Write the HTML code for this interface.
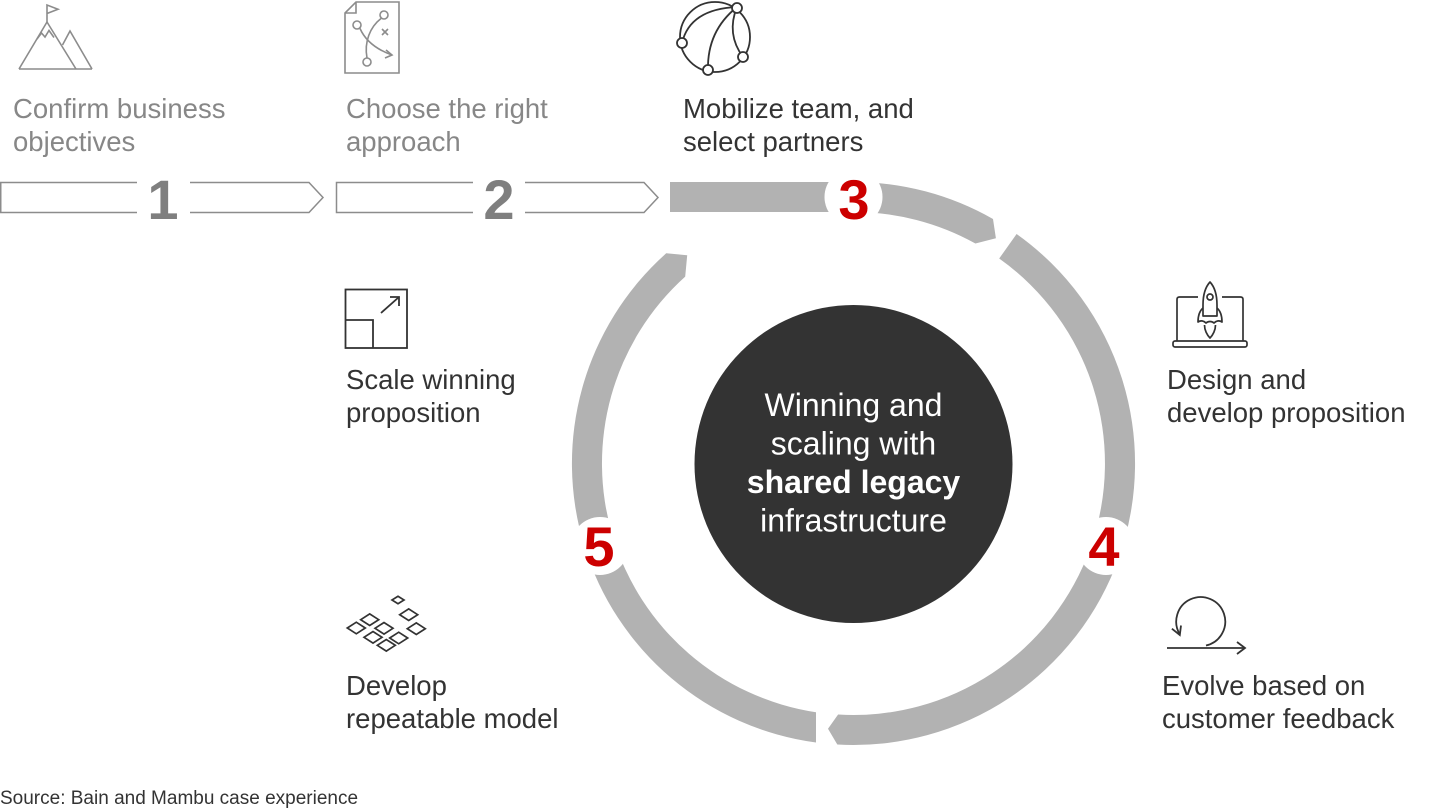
<!DOCTYPE html>
<html>
<head>
<meta charset="utf-8">
<style>
  html, body { margin: 0; padding: 0; background: #ffffff; }
  body { width: 1440px; height: 810px; overflow: hidden; }
  svg { display: block; }
  text { font-family: "Liberation Sans", Arial, sans-serif; }
</style>
</head>
<body>
<svg width="1440" height="810" viewBox="0 0 1440 810" xmlns="http://www.w3.org/2000/svg">
  <rect x="0" y="0" width="1440" height="810" fill="#ffffff"/>

  <!-- ===== Icons ===== -->
  <!-- Mountain icon (gray) -->
  <g fill="none" stroke="#8c8c8c" stroke-width="1.6" stroke-linejoin="miter">
    <path d="M47,22 L47,5 L58,9.3 L47,13.5"/>
    <path d="M19,69 L47,22 L76,69"/>
    <path d="M37,39 L41.5,33 L45,37 L49,30.5 L54,37.5"/>
    <path d="M62.5,45 L70,31 L92,69"/>
    <path d="M19,69 L92,69"/>
  </g>

  <!-- Document / playbook icon (gray) -->
  <g fill="none" stroke="#8c8c8c" stroke-width="1.6">
    <path d="M356,2 L399,2 L399,73 L345,73 L345,13 Z"/>
    <path d="M345,13 L356,13 L356,2"/>
    <circle cx="357" cy="25" r="4"/>
    <circle cx="384" cy="15" r="4"/>
    <circle cx="367" cy="62" r="4"/>
    <path d="M367,58 C364,42 370,27 381,18.5"/>
    <path d="M360,28.5 C366,42 378,50 392,55"/>
    <path d="M386,50 L392,55 L385,58"/>
    <path d="M382,29 L388,35 M388,29 L382,35"/>
  </g>

  <!-- Globe / network icon (dark) -->
  <g fill="none" stroke="#333333" stroke-width="1.8">
    <circle cx="715" cy="37" r="35"/>
    <path d="M737,7 Q690,9 682,43"/>
    <path d="M737,7 Q707,31 708,70"/>
    <path d="M737,7 Q726,34 743,57"/>
    <g fill="#ffffff">
      <circle cx="737" cy="8" r="5"/>
      <circle cx="682" cy="43" r="5"/>
      <circle cx="708" cy="70" r="5"/>
      <circle cx="743" cy="57" r="5"/>
    </g>
  </g>

  <!-- Scale icon (dark) -->
  <g fill="none" stroke="#333333" stroke-width="1.8">
    <rect x="345.5" y="289.5" width="61.5" height="58.5"/>
    <path d="M345.5,320 L373,320 L373,348"/>
    <path d="M381,313 L399,297"/>
    <path d="M390,297 L399,297 L399,306"/>
  </g>

  <!-- Laptop with rocket (dark) -->
  <g fill="none" stroke="#333333" stroke-width="1.7" stroke-linejoin="round">
    <path d="M1198,297 L1179.5,297 Q1177,297 1177,299.5 L1177,341"/>
    <path d="M1243,341 L1243,299.5 Q1243,297 1240.5,297 L1222,297"/>
    <rect x="1173" y="341" width="74" height="6" rx="2"/>
    <path d="M1210,282 C1204.5,288 1203,296 1203,305 L1203,316 L1217,316 L1217,305 C1217,296 1215.5,288 1210,282 Z"/>
    <circle cx="1210" cy="297" r="3"/>
    <path d="M1203,308 C1199.5,311 1198,316 1198,322 C1201,320 1204,321 1206,323 C1208,321 1212,321 1214,323 C1216,321 1219,320 1222,322 C1222,316 1220.5,311 1217,308"/>
    <path d="M1204.5,325 C1204.5,330 1207,335 1210,338 C1213,335 1215.5,330 1215.5,325"/>
  </g>

  <!-- Diamonds icon (dark) -->
  <g fill="none" stroke="#333333" stroke-width="1.7" stroke-linejoin="miter">
    <path d="M392,600 L398,596.3 L404,600 L398,603.7 Z"/>
    <path d="M399.7,614.7 L408.7,608.9 L417.7,614.7 L408.7,620.5 Z"/>
    <path d="M360.7,619.7 L369.7,613.9 L378.7,619.7 L369.7,625.5 Z"/>
    <path d="M347.3,628 L356.3,622.2 L365.3,628 L356.3,633.8 Z"/>
    <path d="M375,628.3 L384,622.5 L393,628.3 L384,634.1 Z"/>
    <path d="M407.3,628.7 L416.3,622.9 L425.3,628.7 L416.3,634.5 Z"/>
    <path d="M364,637.3 L373,631.5 L382,637.3 L373,643.1 Z"/>
    <path d="M389.7,638 L398.7,632.2 L407.7,638 L398.7,643.8 Z"/>
    <path d="M377.3,645.3 L386.3,639.5 L395.3,645.3 L386.3,651.1 Z"/>
  </g>

  <!-- Loop icon (dark) -->
  <g fill="none" stroke="#333333" stroke-width="1.8">
    <path d="M1167,648 L1245,648"/>
    <path d="M1237,642 L1245,648 L1237,654"/>
    <path d="M1206,645.5 A24.5 24.5 0 1 0 1179.8,634.3"/>
    <path d="M1171.9,628.7 L1179.8,635 L1181,625.5"/>
  </g>

  <!-- ===== Outline step arrows 1 and 2 ===== -->
  <g fill="none" stroke="#8c8c8c" stroke-width="1.5">
    <path d="M137,182.5 L0.75,182.5 L0.75,212.5 L137,212.5"/>
    <path d="M190,182.5 L309,182.5 L323,197.5 L309,212.5 L190,212.5"/>
    <path d="M473,182.5 L336.5,182.5 L336.5,212.5 L473,212.5"/>
    <path d="M525,182.5 L644,182.5 L658,197.5 L644,212.5 L525,212.5"/>
  </g>
  <text x="163" y="219" font-size="56" font-weight="bold" fill="#7f7f7f" text-anchor="middle">1</text>
  <text x="499" y="219" font-size="56" font-weight="bold" fill="#7f7f7f" text-anchor="middle">2</text>

  <!-- ===== Ring ===== -->
  <g fill="#b2b2b2">
    <path d="M670,182 L853.5,182 A281.5 281.5 0 0 1 993.0,219.0 L995.9,238.2 L975.4,243.5 A251.5 251.5 0 0 0 853.5,212 L670,212 Z"/>
    <path d="M1016.6,234.0 A281.5 281.5 0 0 1 837.3,744.5 L828.0,728.8 L838.1,714.5 A251.5 251.5 0 0 0 999.2,258.5 Z"/>
    <path d="M816,742.5 A281.5 281.5 0 0 1 666.2,253.3 L687.2,255.2 L685.2,276.6 A251.5 251.5 0 0 0 816,712.2 Z"/>
  </g>

  <!-- white gaps for numbers -->
  <g fill="#ffffff">
    <circle cx="853.5" cy="197" r="29"/>
    <circle cx="1106" cy="546" r="29"/>
    <circle cx="600" cy="546" r="29"/>
  </g>
  <g font-size="56" font-weight="bold" fill="#cc0000" text-anchor="middle">
    <text x="854" y="219">3</text>
    <text x="1104" y="566">4</text>
    <text x="599" y="566">5</text>
  </g>

  <!-- Center circle -->
  <circle cx="853.5" cy="464" r="159" fill="#333333"/>
  <g font-size="32" fill="#ffffff" text-anchor="middle">
    <text x="853.5" y="416">Winning and</text>
    <text x="853.5" y="454.5">scaling with</text>
    <text x="853.5" y="493" font-weight="bold">shared legacy</text>
    <text x="853.5" y="531.5">infrastructure</text>
  </g>

  <!-- ===== Labels ===== -->
  <g font-size="27.5" fill="#878787">
    <text x="13" y="118">Confirm business</text>
    <text x="13" y="151">objectives</text>
    <text x="346" y="118">Choose the right</text>
    <text x="346" y="151">approach</text>
  </g>
  <g font-size="27.5" fill="#333333">
    <text x="683" y="118">Mobilize team, and</text>
    <text x="683" y="151">select partners</text>
    <text x="346" y="389">Scale winning</text>
    <text x="346" y="422">proposition</text>
    <text x="1167" y="389">Design and</text>
    <text x="1167" y="422">develop proposition</text>
    <text x="346" y="695">Develop</text>
    <text x="346" y="728">repeatable model</text>
    <text x="1162" y="695">Evolve based on</text>
    <text x="1162" y="728">customer feedback</text>
  </g>

  <text x="0" y="804" font-size="19" fill="#333333">Source: Bain and Mambu case experience</text>
</svg>
</body>
</html>
